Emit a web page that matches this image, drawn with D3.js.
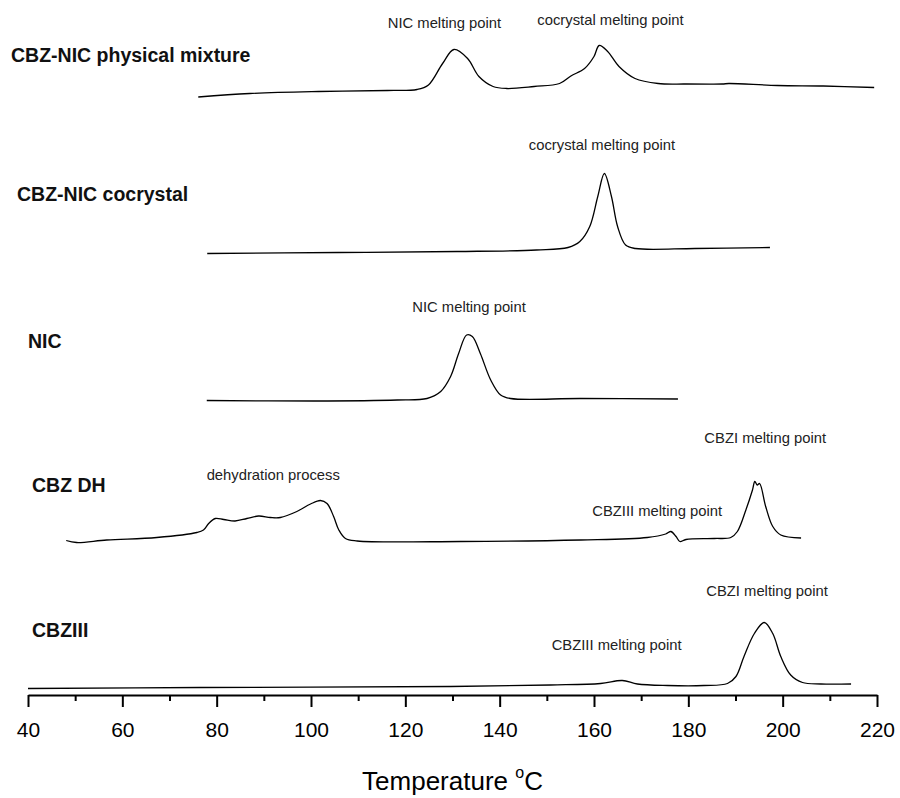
<!DOCTYPE html>
<html>
<head>
<meta charset="utf-8">
<script src="https://cdn.jsdelivr.net/npm/d3@7"></script>
<style>
  body { margin: 0; background: #fff; }
  svg { display: block; font-family: "Liberation Sans", Arial, sans-serif; }
</style>
</head>
<body>
<svg id="chart"></svg>
<script>
// DSC curves, heat flow in arbitrary units (the five curves are stacked)
const mixTemp = [76.1, 87.0, 101.6, 116.2, 122.5, 124.9, 127.9, 130.3, 133.2, 135.6, 138.6, 141.5, 147.3, 152.7, 155.1, 158.0, 160.0, 161.1, 162.9, 165.3, 168.7, 173.6, 179.4, 187.2, 188.6, 198.9, 208.6, 219.4];
const mixHeat = [119.6, 120.3, 120.7, 120.9, 121.1, 122.0, 126.3, 129.1, 127.3, 123.7, 121.7, 121.3, 121.7, 122.3, 123.8, 125.3, 127.7, 129.9, 128.7, 125.7, 123.3, 122.3, 122.2, 122.2, 122.3, 121.9, 121.8, 121.5];

const cocTemp = [78.0, 105.8, 131.0, 147.8, 154.5, 157.0, 159.1, 160.8, 162.2, 163.7, 165.0, 166.7, 168.8, 181.4, 197.3];
const cocHeat = [88.3, 88.5, 88.7, 89.0, 89.5, 90.7, 93.7, 99.7, 104.3, 99.7, 93.7, 90.0, 89.3, 89.3, 89.5];

const nicTemp = [77.9, 100.6, 118.3, 124.6, 127.5, 129.6, 131.3, 133.0, 134.2, 135.9, 138.1, 140.2, 142.3, 157.2, 177.8];
const nicHeat = [58.9, 58.8, 59.0, 59.3, 60.7, 63.7, 68.3, 72.0, 71.7, 68.3, 63.0, 60.0, 59.3, 59.3, 59.2];

const dhTemp = [48.1, 50.3, 56.7, 67.3, 75.8, 77.2, 78.3, 79.7, 81.5, 83.9, 86.4, 88.9, 91.4, 93.5, 97.0, 99.9, 102.0, 103.4, 104.8, 105.9, 107.3, 109.8, 131.7, 157.2, 171.3, 175.2, 176.3, 177.4, 178.2, 179.5, 185.5, 189.0, 190.4, 192.2, 193.6, 194.1, 194.6, 195.1, 196.4, 197.9, 199.6, 203.9];
const dhHeat = [30.9, 30.5, 31.0, 31.5, 32.5, 33.0, 34.3, 35.3, 35.1, 34.8, 35.3, 35.8, 35.5, 35.5, 36.7, 38.2, 38.9, 38.3, 35.7, 33.0, 31.3, 30.8, 30.7, 31.0, 31.5, 32.2, 32.7, 31.7, 30.7, 31.1, 31.3, 31.5, 32.7, 37.0, 41.0, 42.7, 42.0, 42.3, 37.7, 33.7, 32.0, 31.4];

const f3Temp = [40.0, 76.5, 129.6, 150.8, 161.4, 166.0, 169.2, 175.6, 183.3, 188.3, 190.1, 191.8, 194.0, 196.1, 197.9, 199.6, 201.7, 204.2, 208.1, 214.5];
const f3Heat = [1.3, 1.5, 1.7, 2.0, 2.3, 2.9, 2.2, 1.9, 1.9, 2.3, 3.7, 7.7, 12.3, 14.5, 12.3, 7.7, 4.0, 2.5, 2.2, 2.2];

const seriesNames = ["CBZ-NIC physical mixture", "CBZ-NIC cocrystal", "NIC", "CBZ DH", "CBZIII"];
const seriesLabelHeat = [126.6, 98.8, 69.4, 40.6, 11.6];

const noteText = ["NIC melting point", "cocrystal melting point", "cocrystal melting point", "NIC melting point", "dehydration process", "CBZIII melting point", "CBZI melting point", "CBZIII melting point", "CBZI melting point"];
const noteTemp = [128.3, 163.5, 161.7, 133.5, 92.0, 173.4, 196.3, 164.8, 196.7];
const noteHeat = [133.4, 134.0, 109.0, 76.7, 43.0, 35.8, 50.4, 9.0, 19.8];

const majorTicks = [40, 60, 80, 100, 120, 140, 160, 180, 200, 220];
const minorTicks = [50, 70, 90, 110, 130, 150, 170, 190, 210];

const width = 900;
const height = 798;
const axisY = 695;

const svg = d3.select("#chart").attr("width", width).attr("height", height);

const xScale = d3.scaleLinear().domain([40, 220]).range([28, 877]);
const yScale = d3.scaleLinear().domain([0, 139]).range([axisY, 0]);

// curves
const series = [
    [mixTemp, mixHeat],
    [cocTemp, cocHeat],
    [nicTemp, nicHeat],
    [dhTemp, dhHeat],
    [f3Temp, f3Heat]
];

const line = d3.line()
    .x((d) => xScale(d[0]))
    .y((d) => yScale(d[1]))
    .curve(d3.curveCatmullRom.alpha(0.5));

svg.append("g")
    .selectAll("path")
    .data(series)
    .enter()
    .append("path")
    .attr("d", (s) => line(s[0].map((t, i) => [t, s[1][i]])))
    .attr("fill", "none")
    .attr("stroke", "#000")
    .attr("stroke-width", 1.3);

// series names on the left
const labelX = [11, 17, 28, 32, 32];
svg.append("g")
    .selectAll("text")
    .data(seriesNames)
    .enter()
    .append("text")
    .attr("x", (d, i) => labelX[i])
    .attr("y", (d, i) => yScale(seriesLabelHeat[i]))
    .attr("font-size", 19.5)
    .attr("font-weight", "bold")
    .attr("fill", "#111")
    .text((d) => d);

// peak notes
svg.append("g")
    .selectAll("text")
    .data(noteText)
    .enter()
    .append("text")
    .attr("x", (d, i) => xScale(noteTemp[i]))
    .attr("y", (d, i) => yScale(noteHeat[i]))
    .attr("text-anchor", "middle")
    .attr("font-size", 14.8)
    .attr("fill", "#222")
    .text((d) => d);

// x axis
const xAxis = d3.axisBottom(xScale)
    .tickValues(majorTicks)
    .tickFormat(d3.format("d"))
    .tickSize(12)
    .tickSizeOuter(0)
    .tickPadding(15);

const axisG = svg.append("g")
    .attr("transform", "translate(0," + axisY + ")")
    .call(xAxis);

axisG.select(".domain").attr("stroke-width", 2);
axisG.selectAll(".tick line").attr("stroke-width", 2);
axisG.selectAll(".tick text")
    .attr("font-size", 21)
    .attr("font-family", "Liberation Sans, Arial, sans-serif")
    .attr("fill", "#000");

const minorAxis = d3.axisBottom(xScale)
    .tickValues(minorTicks)
    .tickFormat("")
    .tickSize(6)
    .tickSizeOuter(0);

const minorG = svg.append("g")
    .attr("transform", "translate(0," + axisY + ")")
    .call(minorAxis);
minorG.select(".domain").remove();
minorG.selectAll(".tick line").attr("stroke-width", 2);

// axis title
const title = svg.append("text")
    .attr("x", (xScale(40) + xScale(220)) / 2)
    .attr("y", 790)
    .attr("text-anchor", "middle")
    .attr("font-size", 26)
    .attr("fill", "#000");
title.append("tspan").text("Temperature ");
title.append("tspan").attr("font-size", 16).attr("dy", -12).text("o");
title.append("tspan").attr("dy", 12).text("C");
</script>
</body>
</html>
